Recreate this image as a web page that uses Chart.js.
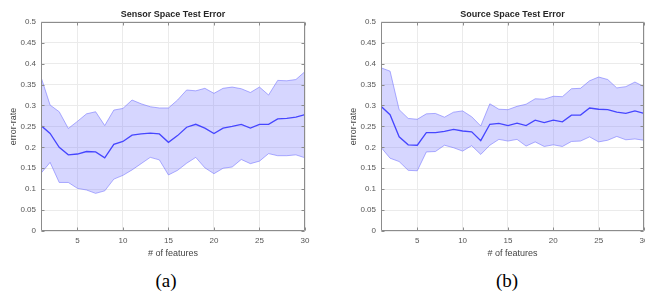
<!DOCTYPE html>
<html>
<head>
<meta charset="utf-8">
<script src="https://cdn.jsdelivr.net/npm/chart.js@4.4.1/dist/chart.umd.min.js"></script>
<style>
    html, body { margin: 0; padding: 0; background: #fff; overflow: hidden; }
    body { width: 645px; height: 294px; position: relative; }
    .panel { position: absolute; top: 0; height: 265px; }
    .caption {
        position: absolute; top: 270px; line-height: 22px;
        font-family: 'Liberation Serif', 'Times New Roman', serif;
        font-size: 19px; color: #000;
        transform: translateX(-50%);
    }
</style>
</head>
<body>
<div class="panel" style="left:0; width:320px;"><canvas id="sensorChart" width="320" height="265"></canvas></div>
<div class="panel" style="left:320px; width:340px;"><canvas id="sourceChart" width="340" height="265"></canvas></div>
<div class="caption" style="left:166px;">(a)</div>
<div class="caption" style="left:507px;">(b)</div>

<script>
const features = [1, 2, 3, 4, 5, 6, 7, 8, 9, 10, 11, 12, 13, 14, 15,
                  16, 17, 18, 19, 20, 21, 22, 23, 24, 25, 26, 27, 28, 29, 30];
const yTicks = [0, 0.05, 0.1, 0.15, 0.2, 0.25, 0.3, 0.35, 0.4, 0.45, 0.5];
const xTicks = [5, 10, 15, 20, 25, 30];

// sensor space
const sensorMean  = [0.252, 0.233, 0.200, 0.182, 0.184, 0.190, 0.189, 0.175, 0.207, 0.214,
                     0.229, 0.232, 0.234, 0.232, 0.212, 0.228, 0.248, 0.255, 0.246, 0.233,
                     0.246, 0.250, 0.255, 0.246, 0.255, 0.255, 0.268, 0.269, 0.272, 0.278];
const sensorUpper = [0.368, 0.301, 0.285, 0.245, 0.262, 0.280, 0.285, 0.252, 0.289, 0.293,
                     0.313, 0.304, 0.297, 0.294, 0.294, 0.313, 0.337, 0.335, 0.341, 0.329,
                     0.341, 0.344, 0.340, 0.331, 0.344, 0.325, 0.360, 0.359, 0.362, 0.381];
const sensorLower = [0.138, 0.164, 0.116, 0.116, 0.102, 0.098, 0.090, 0.096, 0.124, 0.133,
                     0.146, 0.161, 0.176, 0.170, 0.134, 0.145, 0.162, 0.176, 0.151, 0.137,
                     0.150, 0.153, 0.171, 0.161, 0.167, 0.185, 0.180, 0.180, 0.182, 0.175];

// source space
const sourceMean  = [0.298, 0.278, 0.225, 0.206, 0.205, 0.235, 0.235, 0.238, 0.243, 0.239,
                     0.237, 0.216, 0.255, 0.257, 0.252, 0.258, 0.252, 0.265, 0.259, 0.265,
                     0.261, 0.277, 0.277, 0.294, 0.291, 0.290, 0.284, 0.281, 0.287, 0.281];
const sourceUpper = [0.390, 0.382, 0.290, 0.269, 0.267, 0.280, 0.281, 0.272, 0.284, 0.287,
                     0.273, 0.251, 0.304, 0.291, 0.290, 0.298, 0.303, 0.316, 0.315, 0.322,
                     0.321, 0.340, 0.341, 0.359, 0.368, 0.362, 0.342, 0.345, 0.356, 0.345];
const sourceLower = [0.200, 0.174, 0.166, 0.145, 0.144, 0.189, 0.190, 0.205, 0.199, 0.191,
                     0.204, 0.183, 0.205, 0.219, 0.215, 0.219, 0.203, 0.213, 0.202, 0.206,
                     0.202, 0.214, 0.215, 0.225, 0.213, 0.217, 0.226, 0.218, 0.220, 0.217];

const FONT = "'Liberation Sans', Arial, Helvetica, sans-serif";

function pts(values) {
    return features.map((f, i) => ({ x: f, y: values[i] }));
}

// matlab style box with inward ticks
const boxTicks = {
    id: 'boxTicks',
    afterDraw(chart) {
        const { ctx, chartArea: a, scales } = chart;
        ctx.save();
        ctx.strokeStyle = '#8c8c8c';
        ctx.lineWidth = 1;
        ctx.beginPath();
        const l = Math.round(a.left) + 0.5, r = Math.round(a.right) - 0.5;
        const t = Math.round(a.top) + 0.5, b = Math.round(a.bottom) - 0.5;
        ctx.rect(l, t, r - l, b - t);
        xTicks.forEach(v => {
            const px = Math.round(scales.x.getPixelForValue(v)) + 0.5;
            ctx.moveTo(px, b); ctx.lineTo(px, b - 3);
            ctx.moveTo(px, t); ctx.lineTo(px, t + 3);
        });
        yTicks.forEach(v => {
            const py = Math.round(scales.y.getPixelForValue(v)) + 0.5;
            ctx.moveTo(l, py); ctx.lineTo(l + 3, py);
            ctx.moveTo(r, py); ctx.lineTo(r - 3, py);
        });
        ctx.stroke();
        ctx.restore();
    }
};

function makeChart(id, title, mean, upper, lower, yWidth, padLeft, padRight) {
    const ctx = document.getElementById(id).getContext('2d');
    return new Chart(ctx, {
        type: 'line',
        data: {
            datasets: [
                {
                    label: 'mean',
                    data: pts(mean),
                    borderColor: '#4646ff',
                    borderWidth: 1.3,
                    pointRadius: 0,
                    fill: false
                },
                {
                    label: 'upper',
                    data: pts(upper),
                    borderColor: 'rgba(110,110,255,0.55)',
                    borderWidth: 1,
                    pointRadius: 0,
                    backgroundColor: 'rgba(120,120,255,0.3)',
                    fill: '+1'
                },
                {
                    label: 'lower',
                    data: pts(lower),
                    borderColor: 'rgba(110,110,255,0.55)',
                    borderWidth: 1,
                    pointRadius: 0,
                    fill: false
                }
            ]
        },
        options: {
            responsive: false,
            animation: false,
            layout: { padding: { left: padLeft, right: padRight, top: 0, bottom: 0 } },
            plugins: {
                legend: { display: false },
                tooltip: { enabled: false },
                title: {
                    display: true,
                    text: title,
                    fullSize: false,
                    color: '#262626',
                    font: { family: FONT, size: 9, weight: 'bold' },
                    padding: { top: 9, bottom: 2 }
                }
            },
            scales: {
                x: {
                    type: 'linear',
                    min: 1,
                    max: 30,
                    afterBuildTicks: s => { s.ticks = xTicks.map(v => ({ value: v })); },
                    afterFit: s => { s.height = 34; },
                    grid: { color: '#ebebeb', drawTicks: false },
                    border: { display: false },
                    ticks: {
                        color: '#555',
                        padding: 5,
                        maxRotation: 0,
                        font: { family: FONT, size: 8 },
                        callback: v => String(v)
                    },
                    title: {
                        display: true,
                        text: '# of features',
                        color: '#444',
                        font: { family: FONT, size: 9 },
                        padding: { top: 0, bottom: 6 }
                    }
                },
                y: {
                    min: 0,
                    max: 0.5,
                    afterBuildTicks: s => { s.ticks = yTicks.map(v => ({ value: v })); },
                    afterFit: s => { s.width = yWidth; },
                    grid: { color: '#ebebeb', drawTicks: false },
                    border: { display: false },
                    ticks: {
                        color: '#555',
                        padding: 5,
                        font: { family: FONT, size: 8 },
                        callback: v => String(+v.toFixed(2))
                    },
                    title: {
                        display: true,
                        text: 'error-rate',
                        color: '#444',
                        font: { family: FONT, size: 9 },
                        padding: { top: 8, bottom: 0 }
                    }
                }
            }
        },
        plugins: [boxTicks]
    });
}

makeChart('sensorChart', 'Sensor Space Test Error', sensorMean, sensorUpper, sensorLower, 41, 0, 15);
makeChart('sourceChart', 'Source Space Test Error', sourceMean, sourceUpper, sourceLower, 41, 20, 16);
</script>
</body>
</html>
